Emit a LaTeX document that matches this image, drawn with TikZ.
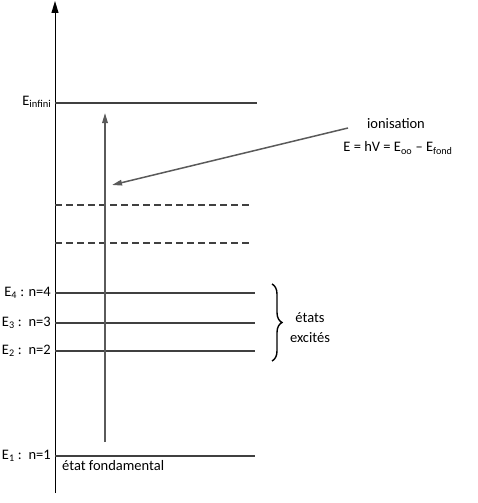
\documentclass[tikz,border=0pt]{standalone}
\usepackage{fontspec}
\setmainfont{Carlito}
\usetikzlibrary{arrows.meta,positioning,decorations.pathreplacing}
\definecolor{Ink}{HTML}{404040}
\definecolor{Steel}{HTML}{5A5A5A}

\begin{document}
\begin{tikzpicture}[
  x=1pt,y=-1pt,
  every node/.style={font=\fontsize{14.5}{17}\selectfont,inner sep=1pt},
  lbl/.style={anchor=east},
  level/.style={draw=Ink,line width=1.6pt},
  virt/.style={draw=Ink,line width=1.4pt,dash pattern=on 7pt off 4pt},
  axis/.style={-{Triangle[length=12pt,width=7pt]},line width=1pt,color=black},
  arr/.style={-{Triangle[length=10pt,width=5.5pt]},line width=1.6pt,color=Steel}
]
\useasboundingbox (0,0) rectangle (478,503);

% axe des energies
\coordinate (ax0) at (55,493);
\coordinate (ax1) at (55,1);
\draw[axis] (ax0)--(ax1);

% niveaux
\coordinate (inf0) at (55,103); \coordinate (inf1) at (257,103);
\coordinate (d10) at (55,205); \coordinate (d11) at (250,205);
\coordinate (d20) at (55,243); \coordinate (d21) at (250,243);
\coordinate (n40) at (55,293); \coordinate (n41) at (255,293);
\coordinate (n30) at (55,323); \coordinate (n31) at (255,323);
\coordinate (n20) at (55,351); \coordinate (n21) at (255,351);
\coordinate (n10) at (55,456); \coordinate (n11) at (255,456);

\draw[level] (inf0)--(inf1);
\draw[virt] (d10)--(d11);
\draw[virt] (d20)--(d21);
\draw[level] (n40)--(n41);
\draw[level] (n30)--(n31);
\draw[level] (n20)--(n21);
\draw[level] (n10)--(n11);

\node[lbl,left=3pt of inf0,yshift=1pt] (einf) {E\raisebox{-2pt}{\fontsize{10.5}{12}\selectfont infini}};
\node[lbl,left=3pt of n40] (e4) {E\textsubscript{4} : n=4};
\node[lbl,left=3pt of n30] (e3) {E\textsubscript{3} :\, n=3};
\node[lbl,left=3pt of n20] (e2) {E\textsubscript{2} :\, n=2};
\node[lbl,left=3pt of n10] (e1) {E\textsubscript{1} :\, n=1};
\node[anchor=west] (fond) at (61,466) {état fondamental};

% transitions
\coordinate (up0) at (105,442);
\coordinate (up1) at (105,113);
\draw[arr] (up0)--(up1);

\node (ion) at (396,124) {ionisation};
\node (form) at (398,148) {E = hV = E\textsubscript{oo} -- E\textsubscript{fond}};
\coordinate (ion0) at (348,128);
\coordinate (ion1) at (112,185);
\draw[arr,line width=1.5pt] (ion0)--(ion1);

% etats excites
\coordinate (br0) at (272,284);
\coordinate (br1) at (272,361);
\draw[decorate,decoration={brace,amplitude=10pt},line width=1.4pt] (br0)--(br1);
\node[align=center,font=\fontsize{14.5}{20}\selectfont] (exc) at (310,328) {états\\excités};
\end{tikzpicture}
\end{document}
